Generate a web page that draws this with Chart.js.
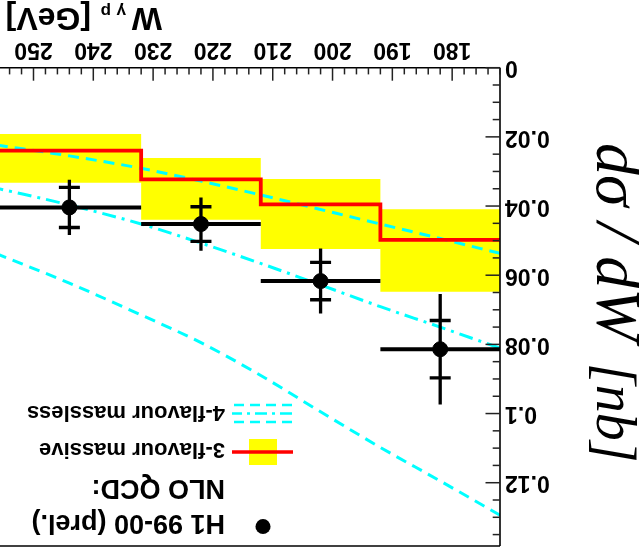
<!DOCTYPE html>
<html>
<head>
<meta charset="utf-8">
<script src="https://cdn.jsdelivr.net/npm/chart.js@4.4.1/dist/chart.umd.min.js"></script>
<style>
html,body{margin:0;padding:0;background:#fff;overflow:hidden;}
#wrap{width:639px;height:553px;transform:rotate(180deg);transform-origin:50% 50%;}
canvas{display:block;}
</style>
</head>
<body>
<div id="wrap"><canvas id="c" width="639" height="553"></canvas></div>
<script>
// ---- data ----
const binEdges   = [172, 192, 212, 232, 256];
const binCenters = [182, 202, 222, 244];
const h1Values   = [0.0814, 0.0617, 0.0452, 0.0404];
const h1Stat     = [0.0083, 0.0054, 0.0050, 0.0058];
const h1Total    = [0.0160, 0.0094, 0.0077, 0.0080];
const nlo3Central = [0.0498, 0.0395, 0.0323, 0.0240];
const nlo3Low     = [0.0409, 0.0322, 0.0261, 0.0192];
const nlo3High    = [0.0648, 0.0524, 0.0440, 0.0333];
const nlo4W        = [172, 182, 192, 202, 212, 222, 232, 244, 256];
const nlo4Lower    = [0.0537, 0.0494, 0.0452, 0.0410, 0.0368, 0.0328, 0.0291, 0.0255, 0.0224];
const nlo4Central  = [0.0811, 0.0750, 0.0691, 0.0628, 0.0566, 0.0507, 0.0452, 0.0397, 0.0349];
const nlo4Upper    = [0.1294, 0.1195, 0.1098, 0.0995, 0.0890, 0.0795, 0.0715, 0.0623, 0.0539];
const xTicks = [180, 190, 200, 210, 220, 230, 240, 250];
const yTicks = [0, 0.02, 0.04, 0.06, 0.08, 0.1, 0.12];
const xMinorStep = 2;
const yMinorStep = 0.005;

const step = (vals) => {
  const pts = vals.map((v, i) => ({x: binEdges[i], y: v}));
  pts.push({x: binEdges[binEdges.length - 1], y: vals[vals.length - 1]});
  return pts;
};
const curve = (vals) => vals.map((v, i) => ({x: nlo4W[i], y: v}));

const FONT = "'Liberation Sans', Arial, sans-serif";
const SERIF = "'Liberation Serif', 'Times New Roman', serif";

function seg(ctx, x1, y1, x2, y2) {
  ctx.beginPath(); ctx.moveTo(x1, y1); ctx.lineTo(x2, y2); ctx.stroke();
}

const errPlugin = {
  id: 'h1err',
  afterDatasetsDraw(chart) {
    const ctx = chart.ctx, a = chart.chartArea, xs = chart.scales.x, ys = chart.scales.y;
    ctx.save();
    ctx.beginPath(); ctx.rect(a.left, a.top, a.right - a.left, a.bottom - a.top); ctx.clip();
    ctx.setLineDash([]);
    ctx.strokeStyle = '#000';
    for (let i = 0; i < h1Values.length; i++) {
      const xc = xs.getPixelForValue(binCenters[i]);
      const yc = ys.getPixelForValue(h1Values[i]);
      ctx.lineWidth = 4;
      seg(ctx, xs.getPixelForValue(binEdges[i]), yc, xs.getPixelForValue(binEdges[i + 1]), yc);
      ctx.lineWidth = 3.3;
      seg(ctx, xc, ys.getPixelForValue(h1Values[i] - h1Total[i]), xc, ys.getPixelForValue(h1Values[i] + h1Total[i]));
      const s1 = ys.getPixelForValue(h1Values[i] - h1Stat[i]);
      const s2 = ys.getPixelForValue(h1Values[i] + h1Stat[i]);
      seg(ctx, xc - 10.5, s1, xc + 10.5, s1);
      seg(ctx, xc - 10.5, s2, xc + 10.5, s2);
    }
    ctx.restore();
  }
};

const axesPlugin = {
  id: 'rootAxes',
  afterDraw(chart) {
    const ctx = chart.ctx, a = chart.chartArea, xs = chart.scales.x, ys = chart.scales.y;
    ctx.save();
    ctx.setLineDash([]);
    ctx.strokeStyle = '#000';
    ctx.lineWidth = 1.6;
    seg(ctx, a.left, a.top, a.left, a.bottom);
    seg(ctx, a.left, a.bottom, a.right, a.bottom);
    seg(ctx, a.left, a.top, a.right, a.top);
    ctx.strokeStyle = '#222';
    ctx.lineWidth = 1.5;
    const nx = Math.floor((xs.max - xs.min) / xMinorStep);
    for (let i = 0; i <= nx; i++) {
      const w = xs.min + xMinorStep * i;
      const px = xs.getPixelForValue(w);
      const len = (Math.round(w) % 10 === 0) ? 13 : 6.7;
      seg(ctx, px, a.bottom, px, a.bottom - len);
    }
    const ny = Math.floor((ys.max - ys.min) / yMinorStep + 1e-6);
    for (let i = 0; i <= ny; i++) {
      const py = ys.getPixelForValue(ys.min + i * yMinorStep);
      const len = (i % 4 === 0) ? 14.5 : 7.3;
      seg(ctx, a.left, py, a.left + len, py);
    }

    // x-axis title
    ctx.fillStyle = '#000';
    ctx.textBaseline = 'alphabetic';
    ctx.textAlign = 'left';
    ctx.font = 'bold 32px ' + FONT;
    ctx.fillText('W', 477, 545);
    ctx.font = 'bold 17px ' + FONT;
    ctx.fillText('\u03B3', 513, 547);
    ctx.fillText('p', 528, 547);
    ctx.font = 'bold 32px ' + FONT;
    ctx.fillText('[GeV]', 548, 545);

    // y-axis title
    ctx.save();
    ctx.translate(42, 410);
    ctx.rotate(-Math.PI / 2);
    ctx.font = 'italic 64px ' + SERIF;
    ctx.fillText('d\u03C3 / dW', 0, 0);
    ctx.font = 'italic 56px ' + SERIF;
    ctx.fillText('[nb]', 220, 0);
    ctx.restore();

    // legend
    ctx.font = 'bold 27px ' + FONT;
    ctx.fillText('H1 99-00 (prel.)', 414, 38);
    ctx.fillText('NLO QCD:', 414, 73);
    ctx.beginPath(); ctx.arc(376, 26.5, 7.5, 0, Math.PI * 2); ctx.fill();
    ctx.font = 'bold 22px ' + FONT;
    ctx.fillText('3-flavour massive', 414, 110);
    ctx.fillText('4-flavour massless', 414, 147);
    ctx.fillStyle = '#ffff00';
    ctx.fillRect(362, 88, 28, 26);
    ctx.strokeStyle = '#ff0000'; ctx.lineWidth = 3.5;
    seg(ctx, 346, 101, 407, 101);
    ctx.strokeStyle = '#00ffff'; ctx.lineWidth = 2.5;
    ctx.setLineDash([10, 6]);
    seg(ctx, 347, 148, 407, 148);
    seg(ctx, 347, 131, 407, 131);
    ctx.setLineDash([12, 5, 3, 5]);
    seg(ctx, 347, 139.5, 407, 139.5);
    ctx.setLineDash([]);
    ctx.restore();
  }
};

new Chart(document.getElementById('c'), {
  type: 'line',
  data: {
    datasets: [
      {label: 'band-low', data: step(nlo3Low), stepped: true, borderWidth: 0, borderColor: 'rgba(0,0,0,0)', pointRadius: 0, fill: false, order: 10},
      {label: 'band-high', data: step(nlo3High), stepped: true, borderWidth: 0, borderColor: 'rgba(0,0,0,0)', backgroundColor: '#ffff00', pointRadius: 0, fill: '-1', order: 9},
      {label: '4f-upper', data: curve(nlo4Upper), borderColor: '#00ffff', borderWidth: 3, borderDash: [11, 7], pointRadius: 0, cubicInterpolationMode: 'monotone', fill: false, order: 8},
      {label: '4f-central', data: curve(nlo4Central), borderColor: '#00ffff', borderWidth: 3, borderDash: [14, 6, 3, 6], pointRadius: 0, cubicInterpolationMode: 'monotone', fill: false, order: 7},
      {label: '4f-lower', data: curve(nlo4Lower), borderColor: '#00ffff', borderWidth: 3, borderDash: [11, 7], pointRadius: 0, cubicInterpolationMode: 'monotone', fill: false, order: 6},
      {label: '3f', data: step(nlo3Central), stepped: true, borderColor: '#ff0000', borderWidth: 3.8, pointRadius: 0, fill: false, order: 5},
      {label: 'H1', type: 'scatter', data: binCenters.map((c, i) => ({x: c, y: h1Values[i]})), backgroundColor: '#000', borderColor: '#000', pointRadius: 7.5, pointStyle: 'circle', order: 1}
    ]
  },
  options: {
    responsive: false,
    animation: false,
    devicePixelRatio: 1,
    layout: {autoPadding: false, padding: {left: 0, right: 0, top: 7, bottom: 0}},
    plugins: {legend: {display: false}, tooltip: {enabled: false}},
    scales: {
      x: {
        type: 'linear', min: 172, max: 255.6,
        afterFit(s) { s.height = 67.7; s.paddingLeft = 0; s.paddingRight = 0; },
        afterBuildTicks(s) { s.ticks = xTicks.map(v => ({value: v})); },
        grid: {display: false, drawTicks: false},
        border: {display: false},
        ticks: {autoSkip: false, maxRotation: 0, padding: 5, color: '#000', font: {family: FONT, weight: 'bold', size: 23}}
      },
      y: {
        type: 'linear', min: 0, max: 0.1383,
        afterFit(s) { s.width = 139; s.paddingTop = 0; s.paddingBottom = 0; },
        afterBuildTicks(s) { s.ticks = yTicks.map(v => ({value: v})); },
        grid: {display: false, drawTicks: false},
        border: {display: false},
        ticks: {autoSkip: false, padding: 5, color: '#000', font: {family: FONT, weight: 'bold', size: 23},
          callback: (v) => String(v)}
      }
    }
  },
  plugins: [errPlugin, axesPlugin]
});
</script>
</body>
</html>
